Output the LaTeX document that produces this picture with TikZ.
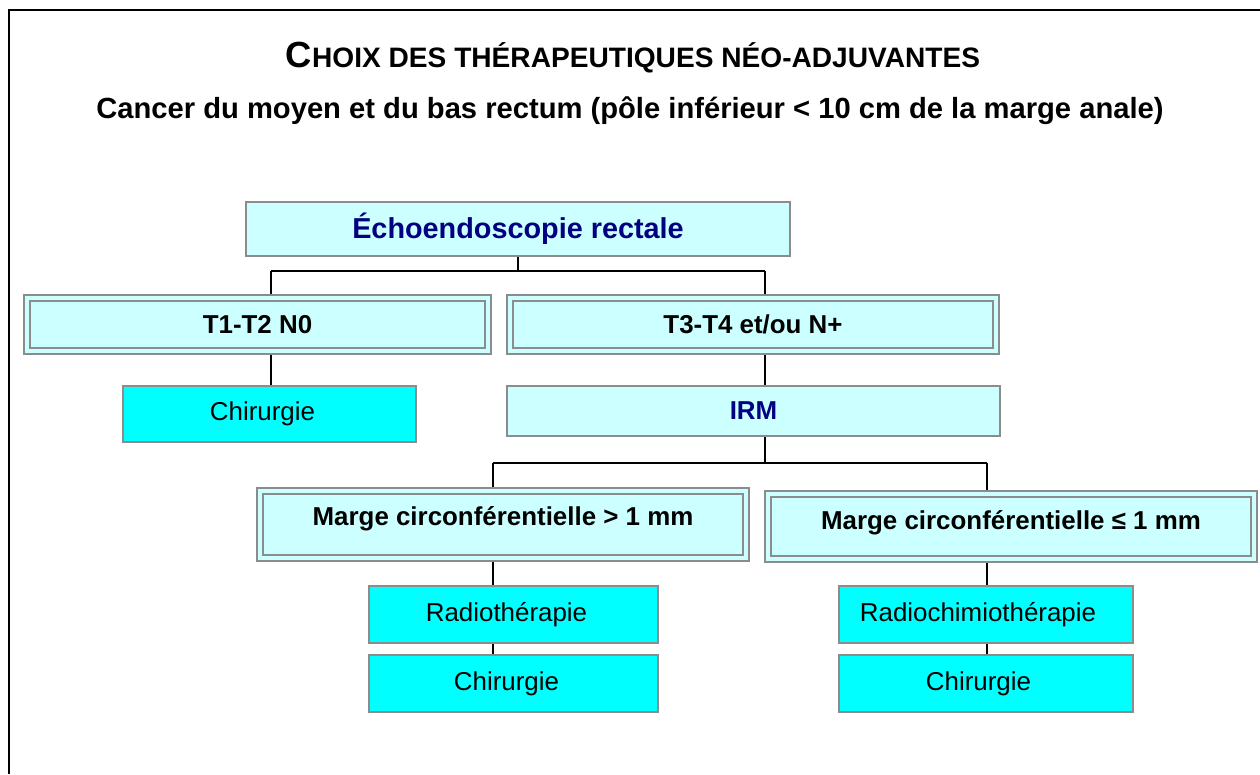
\documentclass[tikz,border=0pt]{standalone}
\usepackage{fontspec}
\setmainfont{Liberation Sans}
\usetikzlibrary{backgrounds}
\definecolor{lcyan}{HTML}{CCFFFF}
\definecolor{bcyan}{HTML}{00FFFF}
\definecolor{navy}{HTML}{000080}
\definecolor{bord}{HTML}{8C8C8C}
\newcommand\placebox[7]{\node[#2, minimum width={(#5-#3)*0.02cm}, minimum height={(#6-#4)*0.02cm}] (#1) at ({(#3+#5)/2},{(#4+#6)/2}) {#7};}
\tikzset{
  boxbase/.style={rectangle, inner sep=0pt, outer sep=0pt, align=center},
  lbox/.style={boxbase, fill=lcyan, draw=bord, line width=0.6pt},
  cbox/.style={boxbase, fill=bcyan, draw=bord, line width=0.6pt, font=\fontsize{14.74}{17}\selectfont},
  dbox/.style={boxbase, fill=lcyan, draw=bord, line width=0.04cm, double=lcyan, double distance=0.08cm, font=\bfseries\fontsize{14.74}{17}\selectfont},
  navytxt/.style={text=navy, font=\bfseries\fontsize{14.74}{17}\selectfont},
  conn/.style={draw=black, line width=0.85pt},
  frameline/.style={draw=black, line width=1.2pt}
}
\begin{document}
\begin{tikzpicture}[x=0.02cm, y=-0.02cm]
\useasboundingbox (0,0) rectangle (1260,774);
\draw[frameline] (9,774) -- (9,10) -- (1260,10);

\node[anchor=base, font=\bfseries] (title) at (633,67)
  {\fontsize{20.7}{23}\selectfont C\fontsize{16}{18}\selectfont HOIX DES THÉRAPEUTIQUES NÉO-ADJUVANTES};
\node[anchor=base, font=\bfseries\fontsize{16.6}{19}\selectfont] (subtitle) at (630,118)
  {Cancer du moyen et du bas rectum (pôle inférieur < 10 cm de la marge anale)};

\placebox{echo}{lbox, navytxt, font=\bfseries\fontsize{16.4}{19}\selectfont}{246}{202}{790}{256}{Échoendoscopie rectale}
\placebox{t12}{dbox}{27}{298}{488}{351}{T1-T2 N0}
\placebox{t34}{dbox}{510}{298}{996}{351}{T3-T4 et/ou N+}
\placebox{chir1}{cbox}{123}{386}{416}{442}{\hspace*{-0.28cm}Chirurgie}
\placebox{irm}{lbox, navytxt}{507}{386}{1000}{436}{IRM}
\placebox{m1}{dbox}{260}{491}{746}{558}{\raisebox{0.12cm}[\height][\depth]{Marge circonférentielle > 1 mm}}
\placebox{m2}{dbox}{768}{494}{1254}{559}{\raisebox{0.07cm}[\height][\depth]{Marge circonférentielle ≤ 1 mm}}
\placebox{radio}{cbox}{369}{586}{658}{643}{\hspace*{-0.28cm}Radiothérapie}
\placebox{chir2}{cbox}{369}{655}{658}{712}{\hspace*{-0.28cm}Chirurgie}
\placebox{rchim}{cbox}{839}{586}{1133}{643}{\hspace*{-0.32cm}Radiochimiothérapie}
\placebox{chir3}{cbox}{839}{655}{1133}{712}{\hspace*{-0.3cm}Chirurgie}

\coordinate (ja) at (518,271);
\coordinate (jl) at (271,271);
\coordinate (jr) at (765,271);
\coordinate (jb) at (765,463);
\coordinate (jbl) at (493,463);
\coordinate (jbr) at (987,463);

\begin{pgfonlayer}{background}
\draw[conn] (echo.south -| ja) -- (ja);
\draw[conn] (jl) -- (jr);
\draw[conn] (jl) -- (t12.north -| jl);
\draw[conn] (jr) -- (t34.north -| jr);
\draw[conn] (t12.south -| jl) -- (chir1.north -| jl);
\draw[conn] (t34.south -| jr) -- (irm.north -| jr);
\draw[conn] (irm.south -| jb) -- (jb);
\draw[conn] (jbl) -- (jbr);
\draw[conn] (jbl) -- (m1.north -| jbl);
\draw[conn] (jbr) -- (m2.north -| jbr);
\draw[conn] (m1.south -| jbl) -- (radio.north -| jbl);
\draw[conn] (radio.south -| jbl) -- (chir2.north -| jbl);
\draw[conn] (m2.south -| jbr) -- (rchim.north -| jbr);
\draw[conn] (rchim.south -| jbr) -- (chir3.north -| jbr);
\end{pgfonlayer}
\end{tikzpicture}
\end{document}
